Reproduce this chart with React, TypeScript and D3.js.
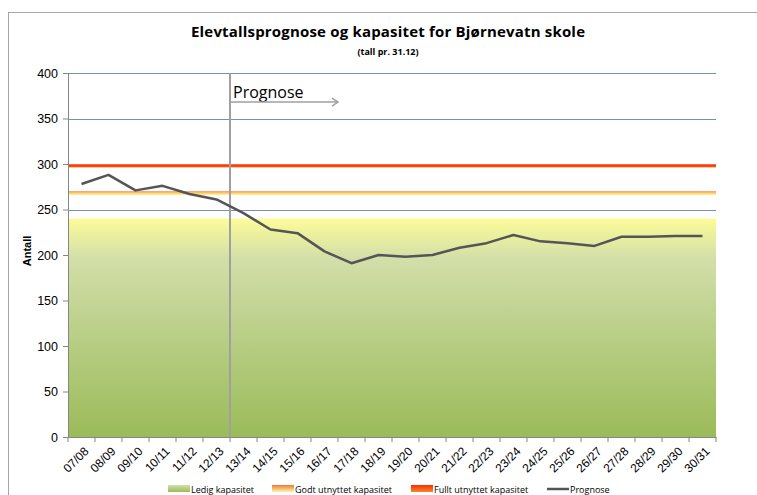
import React, { useEffect, useRef } from 'react';
import * as d3 from 'd3';

const years = [
  '07/08', '08/09', '09/10', '10/11', '11/12', '12/13', '13/14', '14/15',
  '15/16', '16/17', '17/18', '18/19', '19/20', '20/21', '21/22', '22/23',
  '23/24', '24/25', '25/26', '26/27', '27/28', '28/29', '29/30', '30/31',
];

const prognose = [
  278, 288, 271, 276, 267, 261, 246, 228, 224, 204, 191, 200,
  198, 200, 208, 213, 222, 215, 213, 210, 220, 220, 221, 221,
];

// capacity bands (stacked in the original Excel chart)
const ledigKapasitet = 240;
const godtUtnyttet = [266, 270];
const fulltUtnyttet = [296, 300];

const yTicks = [0, 50, 100, 150, 200, 250, 300, 350, 400];
const prognoseStart = '13/14';

const W = 757;
const H = 495;

const App: React.FC = () => {
  const svgRef = useRef<SVGSVGElement>(null);

  useEffect(() => {
    if (!svgRef.current) return;
    const svg = d3.select(svgRef.current);
    svg.selectAll('*').remove();

    const margin = { top: 73, right: 41, bottom: 58, left: 68 };
    const x = d3.scaleBand().domain(years).range([margin.left, W - margin.right]);
    const y = d3.scaleLinear().domain([0, 400]).range([H - margin.bottom, margin.top]);
    const x0 = margin.left;
    const x1 = W - margin.right;

    const defs = svg.append('defs');
    const green = defs.append('linearGradient').attr('id', 'ledig').attr('x1', 0).attr('y1', 0).attr('x2', 0).attr('y2', 1);
    green.append('stop').attr('offset', '0%').attr('stop-color', '#fcfc98');
    green.append('stop').attr('offset', '18%').attr('stop-color', '#d3dfa9');
    green.append('stop').attr('offset', '45%').attr('stop-color', '#bfd28f');
    green.append('stop').attr('offset', '100%').attr('stop-color', '#9bbb59');

    const orange = defs.append('linearGradient').attr('id', 'godt').attr('x1', 0).attr('y1', 0).attr('x2', 0).attr('y2', 1);
    orange.append('stop').attr('offset', '0%').attr('stop-color', '#f07a3a');
    orange.append('stop').attr('offset', '35%').attr('stop-color', '#fbc45c');
    orange.append('stop').attr('offset', '100%').attr('stop-color', '#fdf3a8');

    const red = defs.append('linearGradient').attr('id', 'fullt').attr('x1', 0).attr('y1', 0).attr('x2', 0).attr('y2', 1);
    red.append('stop').attr('offset', '0%').attr('stop-color', '#f7a08a');
    red.append('stop').attr('offset', '30%').attr('stop-color', '#ff2a00');
    red.append('stop').attr('offset', '75%').attr('stop-color', '#f55a10');
    red.append('stop').attr('offset', '100%').attr('stop-color', '#f9b080');

    const legGreen = defs.append('linearGradient').attr('id', 'legGreen').attr('x1', 0).attr('y1', 0).attr('x2', 0).attr('y2', 1);
    legGreen.append('stop').attr('offset', '0%').attr('stop-color', '#d4e0a8');
    legGreen.append('stop').attr('offset', '100%').attr('stop-color', '#9bbb59');
    const legOrange = defs.append('linearGradient').attr('id', 'legOrange').attr('x1', 0).attr('y1', 0).attr('x2', 0).attr('y2', 1);
    legOrange.append('stop').attr('offset', '0%').attr('stop-color', '#f07a3a');
    legOrange.append('stop').attr('offset', '100%').attr('stop-color', '#fdf3a8');
    const legRed = defs.append('linearGradient').attr('id', 'legRed').attr('x1', 0).attr('y1', 0).attr('x2', 0).attr('y2', 1);
    legRed.append('stop').attr('offset', '0%').attr('stop-color', '#ff2a00');
    legRed.append('stop').attr('offset', '100%').attr('stop-color', '#f4892e');

    // outer chart frame
    svg.append('rect')
      .attr('x', 8.5).attr('y', 12.5).attr('width', W + 20).attr('height', H + 20)
      .attr('fill', '#fff').attr('stroke', '#a6a6a6').attr('stroke-width', 1);

    // gridlines
    svg.append('g')
      .selectAll('line')
      .data(yTicks.filter(t => t > 0))
      .enter()
      .append('line')
      .attr('x1', x0).attr('x2', x1)
      .attr('y1', d => Math.round(y(d)) + 0.5).attr('y2', d => Math.round(y(d)) + 0.5)
      .attr('stroke', '#7890b8').attr('stroke-width', 1);

    // capacity areas
    svg.append('rect')
      .attr('x', x0).attr('width', x1 - x0)
      .attr('y', y(ledigKapasitet)).attr('height', y(0) - y(ledigKapasitet))
      .attr('fill', 'url(#ledig)');
    svg.append('rect')
      .attr('x', x0).attr('width', x1 - x0)
      .attr('y', y(godtUtnyttet[1])).attr('height', y(godtUtnyttet[0]) - y(godtUtnyttet[1]))
      .attr('fill', 'url(#godt)');
    svg.append('rect')
      .attr('x', x0).attr('width', x1 - x0)
      .attr('y', y(fulltUtnyttet[1])).attr('height', y(fulltUtnyttet[0]) - y(fulltUtnyttet[1]))
      .attr('fill', 'url(#fullt)');

    // prognose divider
    const xp = x(prognoseStart) as number;
    svg.append('line')
      .attr('x1', xp).attr('x2', xp).attr('y1', y(400)).attr('y2', y(0))
      .attr('stroke', '#a0a0a0').attr('stroke-width', 2);

    // y axis
    const yAxis = svg.append('g')
      .attr('transform', `translate(${x0},0)`)
      .call(d3.axisLeft(y).tickValues(yTicks).tickSize(5).tickPadding(5));
    yAxis.select('.domain').attr('stroke', '#868686');
    yAxis.selectAll('.tick line').attr('stroke', '#868686');
    yAxis.selectAll('.tick text')
      .attr('fill', '#000').attr('font-size', 12.5)
      .attr('font-family', 'Liberation Sans, Arial, sans-serif');

    // x axis
    const xAxis = svg.append('g')
      .attr('transform', `translate(0,${y(0)})`)
      .call(d3.axisBottom(x).tickSize(0).tickPadding(0));
    xAxis.select('.domain').attr('stroke', '#868686');
    xAxis.selectAll('.tick text')
      .attr('fill', '#000').attr('font-size', 12)
      .attr('font-family', 'Liberation Sans, Arial, sans-serif')
      .attr('text-anchor', 'end')
      .attr('dy', 0)
      .attr('y', 0)
      .attr('transform', 'translate(8,15) rotate(-45)');
    svg.append('g')
      .selectAll('line')
      .data(years.concat(['end']))
      .enter()
      .append('line')
      .attr('x1', (d, i) => x0 + i * x.bandwidth()).attr('x2', (d, i) => x0 + i * x.bandwidth())
      .attr('y1', y(0)).attr('y2', y(0) + 5)
      .attr('stroke', '#868686');

    svg.append('text')
      .attr('transform', `translate(31,${(y(0) + y(400)) / 2 - 4}) rotate(-90)`)
      .attr('text-anchor', 'middle')
      .attr('font-size', 11).attr('font-weight', 'bold')
      .attr('font-family', 'Liberation Sans, Arial, sans-serif')
      .text('Antall');

    // prognose line
    const line = d3.line<number>()
      .x((d, i) => (x(years[i]) as number) + x.bandwidth() / 2)
      .y(d => y(d));
    svg.append('path')
      .datum(prognose)
      .attr('d', line)
      .attr('fill', 'none')
      .attr('stroke', '#555555')
      .attr('stroke-width', 2.5)
      .attr('stroke-linejoin', 'round');

    // prognose annotation
    svg.append('text')
      .attr('x', xp + 3).attr('y', y(372))
      .attr('font-size', 16)
      .attr('font-family', 'Open Sans, sans-serif')
      .attr('fill', '#000')
      .text('Prognose');
    const ay = y(368);
    svg.append('line')
      .attr('x1', xp).attr('x2', xp + 108).attr('y1', ay).attr('y2', ay)
      .attr('stroke', '#a0a0a0').attr('stroke-width', 1.5);
    svg.append('path')
      .attr('d', `M${xp + 102},${ay - 4} L${xp + 108},${ay} L${xp + 102},${ay + 4}`)
      .attr('fill', 'none').attr('stroke', '#a0a0a0').attr('stroke-width', 1.5);

    // titles
    svg.append('text')
      .attr('x', 388).attr('y', 37)
      .attr('text-anchor', 'middle')
      .attr('font-size', 15).attr('font-weight', 'bold')
      .attr('font-family', 'Open Sans, sans-serif')
      .attr('textLength', 394)
      .text('Elevtallsprognose og kapasitet for Bjørnevatn skole');
    svg.append('text')
      .attr('x', 388).attr('y', 55)
      .attr('text-anchor', 'middle')
      .attr('font-size', 9).attr('font-weight', 'bold')
      .attr('font-family', 'Open Sans, sans-serif')
      .text('(tall pr. 31.12)');

    // legend
    const legend = [
      { label: 'Ledig kapasitet', x: 168, kind: 'url(#legGreen)' },
      { label: 'Godt utnyttet kapasitet', x: 272, kind: 'url(#legOrange)' },
      { label: 'Fullt utnyttet kapasitet', x: 411, kind: 'url(#legRed)' },
      { label: 'Prognose', x: 547, kind: 'line' },
    ];
    const lg = svg.append('g').selectAll('g').data(legend).enter().append('g')
      .attr('transform', d => `translate(${d.x},489)`);
    lg.filter(d => d.kind !== 'line').append('rect')
      .attr('x', 0).attr('y', -4).attr('width', 22).attr('height', 7)
      .attr('fill', d => d.kind);
    lg.filter(d => d.kind === 'line').append('line')
      .attr('x1', 0).attr('x2', 22).attr('y1', 0).attr('y2', 0)
      .attr('stroke', '#555').attr('stroke-width', 2.5);
    lg.append('text')
      .attr('x', 23).attr('y', 3.5)
      .attr('font-size', 9)
      .attr('font-family', 'Open Sans, sans-serif')
      .text(d => d.label);
  }, []);

  return (
    <div style={{ position: 'fixed', left: 0, top: 0, width: W, height: H, background: '#fff' }}>
      <svg ref={svgRef} width={W} height={H} viewBox={`0 0 ${W} ${H}`} style={{ display: 'block' }} />
    </div>
  );
};

export default App;
